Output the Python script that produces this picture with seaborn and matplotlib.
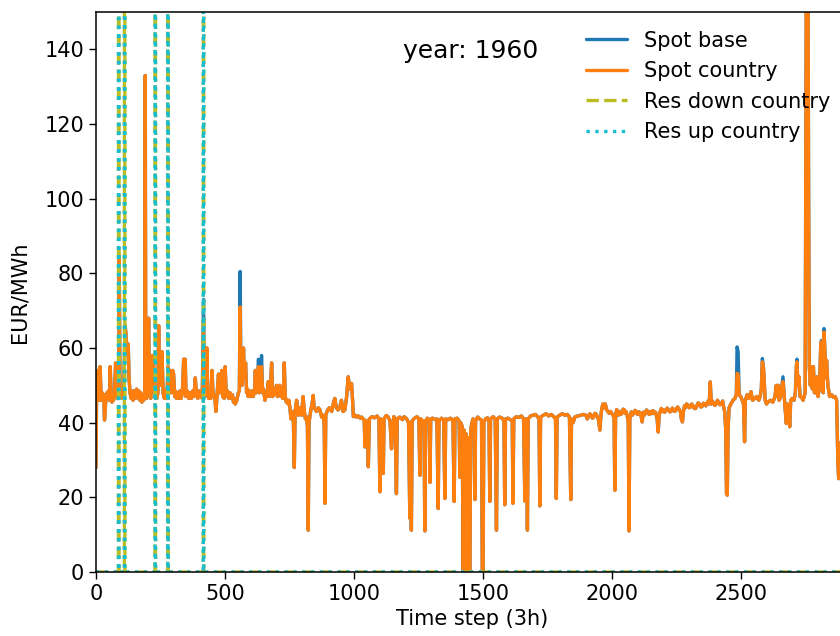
import numpy as np
import pandas as pd
import matplotlib
matplotlib.use("Agg")
import matplotlib.pyplot as plt
import seaborn as sns

# ---- data ----
steps = [0, 2, 5, 8, 12, 16, 20, 24, 27, 30, 33, 38, 42, 45, 48, 52, 55, 59, 62, 65, 68, 72, 76, 80,
         84, 88, 90, 93, 97, 100, 104, 108, 113, 117, 121, 125, 128, 132, 136, 140, 144, 147, 150, 153,
         158, 162, 166, 170, 174, 178, 181, 185, 189, 191, 193, 196, 199, 204, 207, 212, 217, 220, 223,
         226, 230, 233, 236, 240, 243, 246, 250, 253, 256, 260, 265, 269, 272, 276, 279, 284, 288, 292,
         297, 301, 305, 308, 312, 316, 320, 325, 330, 335, 340, 343, 346, 349, 354, 360, 365, 370, 375,
         380, 385, 389, 395, 400, 405, 408, 412, 417, 420, 423, 426, 430, 433, 437, 440, 445, 450, 454,
         460, 465, 469, 475, 479, 484, 488, 491, 494, 497, 501, 505, 510, 515, 520, 525, 529, 533, 537,
         540, 546, 552, 556, 559, 562, 566, 569, 572, 575, 580, 584, 587, 590, 595, 600, 605, 610, 615,
         618, 621, 626, 630, 633, 638, 642, 646, 650, 655, 658, 662, 665, 668, 672, 676, 681, 685, 688,
         692, 696, 700, 704, 708, 713, 717, 720, 724, 727, 730, 734, 738, 742, 745, 748, 752, 756, 760,
         765, 769, 772, 778, 785, 791, 797, 803, 808, 812, 816, 820, 823, 826, 833, 838, 842, 846, 855,
         862, 868, 875, 880, 885, 888, 891, 898, 905, 914, 920, 926, 932, 939, 945, 952, 958, 965, 972,
         978, 984, 991, 995, 998, 1005, 1010, 1017, 1025, 1030, 1036, 1040,
         1043, 1047, 1052, 1056, 1060, 1070, 1080, 1090, 1097, 1101, 1104, 1110, 1114, 1117, 1125, 1132,
         1140, 1143, 1146, 1149, 1155, 1160, 1165, 1168, 1178, 1188, 1195, 1205, 1212, 1217, 1219, 1223,
         1226, 1235, 1245, 1252, 1256, 1259, 1266, 1272, 1275, 1278, 1285, 1292, 1295, 1298, 1305, 1315,
         1322, 1327, 1330, 1340, 1348, 1353, 1356, 1365, 1375, 1384, 1389, 1392, 1400, 1408, 1411, 1414,
         1420, 1424, 1428, 1431, 1435, 1438, 1441, 1444, 1447, 1450, 1453, 1458, 1462, 1466, 1469, 1472,
         1480, 1488, 1495, 1498, 1501, 1504, 1510, 1518, 1524, 1527, 1530, 1540, 1548, 1553, 1556, 1565,
         1575, 1582, 1585, 1588, 1597, 1607, 1614, 1617, 1620, 1630, 1640, 1650, 1658, 1663, 1667, 1670,
         1673, 1676, 1685, 1695, 1705, 1713, 1718, 1721, 1724, 1735, 1745, 1755, 1765, 1775, 1782, 1785,
         1788, 1798, 1808, 1818, 1828, 1836, 1841, 1844, 1850, 1858, 1870, 1880, 1890,
         1900, 1905, 1910, 1915, 1920, 1925, 1930, 1935, 1940, 1944, 1948, 1954, 1958, 1962, 1966, 1970,
         1975, 1980, 1985, 1990, 1995, 2000, 2005, 2009, 2012, 2015, 2019, 2022, 2026, 2030, 2035, 2040,
         2044, 2048, 2052, 2055, 2060, 2064, 2067, 2070, 2076, 2080, 2085, 2090, 2095, 2100, 2105, 2112,
         2118, 2122, 2126, 2130, 2135, 2140, 2145, 2150, 2155, 2160, 2165, 2170, 2176, 2180, 2184, 2188,
         2192, 2196, 2200, 2205, 2210, 2215, 2220, 2225, 2230, 2235, 2240, 2245, 2250, 2255, 2260, 2266,
         2270, 2274, 2278, 2282, 2285, 2290, 2295, 2300, 2305, 2310, 2315, 2320, 2325, 2330, 2335, 2340,
         2345, 2350, 2355, 2360, 2365, 2370, 2374, 2378, 2382, 2386, 2390, 2395, 2400, 2405, 2410, 2415,
         2420, 2425, 2430, 2432, 2438, 2442, 2445, 2448, 2451, 2455, 2462, 2470,
         2478, 2483, 2486, 2490, 2494, 2500, 2506, 2511, 2515, 2518, 2525, 2532, 2540, 2546, 2555, 2562,
         2570, 2575, 2580, 2584, 2588, 2591, 2595, 2600, 2606, 2615, 2625, 2633, 2638, 2641, 2645, 2649,
         2655, 2660, 2664, 2668, 2672, 2677, 2681, 2686, 2690, 2694, 2700, 2707, 2712, 2716, 2718, 2722,
         2726, 2730, 2736, 2742, 2746, 2750, 2753, 2756, 2760, 2763, 2766, 2770, 2774, 2778, 2782, 2786,
         2790, 2795, 2800, 2806, 2810, 2813, 2816, 2820, 2823, 2826, 2830, 2833, 2838, 2845, 2852, 2860,
         2866, 2872, 2877, 2880, 2886, 2900, 2919]

spot_country = [28, 46, 47, 54, 46, 55, 46, 48, 46, 47.5, 40.7, 46, 48, 46.5, 48.5, 46, 55, 47, 45.5, 47.5, 46, 48, 56, 48,
                46.5, 48, 85, 48, 46.5, 49, 47, 50, 66, 63, 58, 61, 52, 48, 46.5, 48.5, 46, 48.5, 46.5, 48,
                49, 46.5, 48.5, 46, 48, 45.5, 47.5, 46, 48, 133, 49, 46.5, 48, 68, 50, 46.5, 58, 50, 58,
                48, 46.5, 48.5, 46.5, 48, 66, 52, 59, 50, 59, 48, 46.5, 48.5, 46.5, 48.5, 55, 48, 54, 48,
                54, 53, 47, 48.5, 46.5, 48, 46.5, 48.5, 46.5, 48, 57, 48, 57, 47, 48.5, 46.5, 48, 46.5, 48.5,
                47, 52, 48, 46.5, 48.5, 47, 48.5, 46.5, 68, 50, 47, 48.5, 60, 48, 46.5, 48, 46.5, 54, 47,
                47.5, 43, 47, 53, 48, 52, 54, 47, 48.5, 46.5, 55, 47, 48.5, 46.5, 48, 46.5, 47.5, 45.5, 46.5,
                45, 46, 48, 48.5, 71, 52, 50, 53, 60, 52, 56, 48, 49, 47, 48.5, 47, 48.5, 47, 49,
                54, 48, 49, 55, 48, 49, 55, 48, 49, 46, 48, 47, 48.5, 51, 47, 48.5, 56, 47, 49,
                47.5, 48.5, 50, 47, 48.5, 50, 47, 48.5, 46.5, 48, 56, 47, 45.5, 46, 45, 46, 44, 41, 43,
                42, 28, 43, 46, 42, 44, 42, 47, 43, 41, 41.6, 39, 11.2, 40, 43.4, 45, 47.3, 44, 43,
                44, 43.5, 41.5, 42, 40, 18.4, 42, 43.4, 44, 43, 45, 46.5, 44, 43.4, 44, 46, 43, 43.4, 47,
                52.3, 49, 50.5, 46, 41.6, 42, 41.5, 41.8, 41.2, 41.5, 41, 40.8,
                33.5, 40, 40.5, 28.2, 41, 41.6, 41.3, 41.8, 41, 21.5, 41, 40.5, 26.4, 41, 41.9, 41.6,
                40.5, 37, 33, 38, 41.6, 41, 21, 41, 41.5, 40.8, 41.6, 41, 40, 14.4, 40, 11.2,
                40.5, 41.2, 41.6, 41, 25.9, 41, 40.5, 40, 11, 40.5, 41.2, 40.5, 24, 41, 41.2, 40.8,
                41, 17, 40.5, 41.2, 40.6, 19.7, 41, 40.8, 41.2, 40.5, 18.9, 41, 41.2, 40.5, 25.4, 40,
                39, 0, 38, 0, 37, 0, 0, 36, 0, 0, 38, 40, 41, 40, 19.4, 40.5,
                41.5, 41, 40.6, 0, 0, 40, 41, 41.3, 40.5, 18.9, 41, 41.6, 41, 11.2, 41, 41.5,
                41.2, 40.5, 18, 41, 41.2, 40.8, 40.5, 18.4, 41, 41.6, 41.4, 41.8, 41, 19, 41, 40,
                11.2, 41, 41.8, 42, 42.2, 41.5, 41, 17.7, 41.5, 42, 42.4, 41.8, 42.2, 41.6, 41, 19.7,
                41.5, 42, 42.4, 42, 42.2, 41.5, 19.4, 41, 40, 41.6, 41.8, 42, 42.2,
                42, 41, 41.6, 42.4, 42, 41.2, 41.6, 42.5, 42.2, 41.5, 41, 38, 42, 44, 45, 44,
                45, 43.5, 43, 42.5, 43, 42.5, 42, 41, 21.9, 42, 43.5, 43, 42, 43, 42.2, 42.5,
                43.6, 43.5, 42.5, 43, 42, 40, 11, 41, 42.9, 42, 42.5, 43.3, 43, 42.2, 42.9, 42.5,
                40.2, 42.8, 42, 42.5, 43.4, 42.9, 42.2, 43, 42.4, 43.2, 42.5, 42.8, 41, 37.5, 42, 43,
                43.8, 43, 43.5, 42.8, 43.2, 43.9, 43.5, 42.9, 43, 43.9, 43.6, 43, 43.4, 44.2, 43.8, 43,
                41, 40.2, 43, 44.5, 44, 45, 44.7, 44, 44.2, 45, 44.5, 43.8, 43.8, 44.5, 45.3, 45,
                44.2, 44.3, 45.2, 45, 44.5, 45.2, 45.8, 45, 50.9, 45, 45.8, 45.2, 44.6, 45, 46, 45.4,
                44.8, 45, 45.8, 44.8, 43, 38, 21, 20.6, 38, 44, 45, 46,
                46.5, 47.5, 53.2, 53, 47.5, 47, 46, 45, 34.9, 46, 47.5, 46.5, 48.3, 46, 46.5, 47,
                46, 46.8, 49, 56.3, 55, 51.4, 46, 45, 45.5, 46, 45.5, 47, 50, 47, 50, 46,
                47, 50, 51, 48, 44, 39.8, 45, 43, 38.9, 46, 46.5, 46, 48, 55, 56.3, 50,
                52.3, 47, 46.8, 46, 47, 48, 122, 200, 200, 108, 55, 50, 55, 49, 55, 48,
                48, 52.3, 47, 50, 60, 61.7, 50, 48, 64.3, 60, 52, 56.7, 50, 47, 47.5, 46.8,
                47, 46, 29, 25, 32, 45, 46]

# steps where Spot base differs from Spot country
base_steps = [417, 559, 630, 642, 2486, 2490, 2584, 2664, 2718, 2763, 2813, 2823]
base_values = [73, 80.5, 57, 58, 60.3, 59, 57.2, 52.3, 57, 110, 62, 65.2]

# reserve prices: zero except for a few extreme events
res_steps = [0, 87, 88, 89, 110, 111, 112, 229, 230, 231, 278, 279, 280, 416, 417, 418, 2919]
res_down = [0, 0, 900, 0, 0, 900, 0, 0, 900, 0, 0, 900, 0, 0, 900, 0, 0]
res_up = [0, 0, 900, 0, 0, 900, 0, 0, 900, 0, 0, 900, 0, 0, 900, 0, 0]

yticks = [0, 20, 40, 60, 80, 100, 120, 140]
xticks = [0, 500, 1000, 1500, 2000, 2500]

assert len(steps) == len(spot_country)

# ---- build tables ----
spot = pd.DataFrame({"step": steps, "country": spot_country})
spot["base"] = spot["country"]
for s, v in zip(base_steps, base_values):
    spot.loc[spot["step"] == s, "base"] = v
res = pd.DataFrame({"step": res_steps, "down": res_down, "up": res_up})

sns.set_style("ticks", {"axes.edgecolor": "black", "xtick.color": "black", "ytick.color": "black",
                        "text.color": "black", "axes.labelcolor": "black"})
plt.rcParams["font.family"] = ["DejaVu Sans"]

fig = plt.figure(figsize=(8.4, 6.36), dpi=100)
ax = fig.add_axes([96 / 840, 64 / 636, 753 / 840, 560 / 636])

lw = 2.4
sns.lineplot(data=spot, x="step", y="base", ax=ax, color="#1f77b4", lw=lw, label="Spot base",
             estimator=None, sort=False)
sns.lineplot(data=spot, x="step", y="country", ax=ax, color="#ff7f0e", lw=lw, label="Spot country",
             estimator=None, sort=False)
sns.lineplot(data=res, x="step", y="down", ax=ax, color="#bcbd22", lw=lw, ls="--",
             label="Res down country", estimator=None, sort=False)
sns.lineplot(data=res, x="step", y="up", ax=ax, color="#17becf", lw=lw, ls=":",
             label="Res up country", estimator=None, sort=False)

ax.set_xlim(0, 2920)
ax.set_ylim(0, 150)
ax.set_yticks(yticks)
ax.set_xticks(xticks)
ax.tick_params(labelsize=15, length=5, width=1)
for sp in ax.spines.values():
    sp.set_linewidth(1.1)
ax.set_xlabel("Time step (3h)", fontsize=15)
ax.set_ylabel("EUR/MWh", fontsize=15, labelpad=11)
ax.text(1190, 139.5, "year: 1960", fontsize=18, va="center", ha="left")
ax.legend(loc="upper right", frameon=False, fontsize=15)

fig.savefig("out.png", dpi=100)
